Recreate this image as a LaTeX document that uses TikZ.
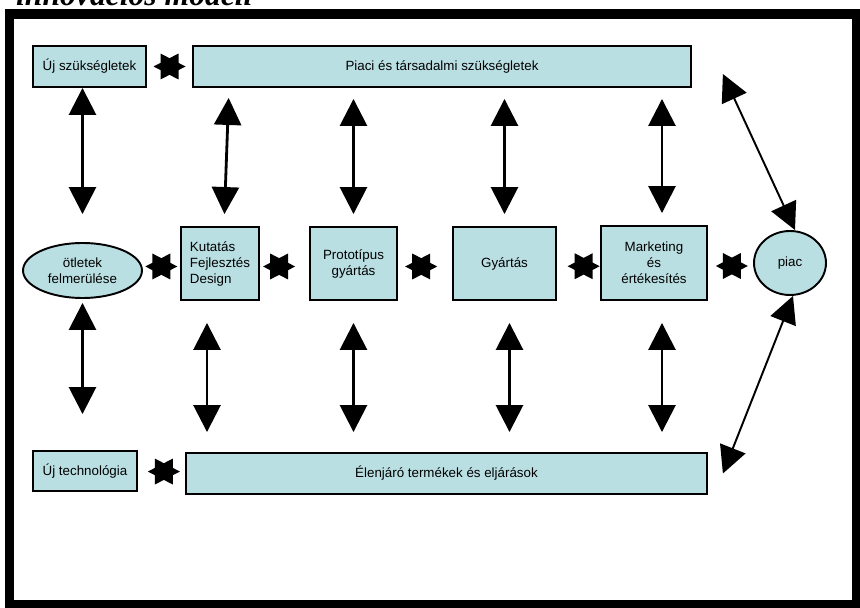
\documentclass[tikz,border=0pt]{standalone}
\usepackage{fontspec}
\setmainfont{Liberation Sans}
\newfontfamily\titlefont{Liberation Serif}
\usetikzlibrary{arrows.meta, shapes.geometric}

\newcommand{\dblmark}{\tikz \fill (-0.32cm,0cm) -- (0.18cm,-0.26cm) -- (0.18cm,0.26cm) -- cycle
    (0.32cm,0cm) -- (-0.18cm,0.26cm) -- (-0.18cm,-0.26cm) -- cycle;}

\begin{document}
\begin{tikzpicture}[
        x=0.02cm, y=-0.02cm,
        box/.style={draw=black, line width=1.1pt, fill=boxfill, inner sep=1pt, font=\fontsize{7.6}{9.1}\selectfont},
        oval/.style={box, ellipse, inner sep=0pt},
        link/.style={line width=1.6pt, {Triangle[length=0.54cm, width=0.54cm]}-{Triangle[length=0.54cm, width=0.54cm]}},
        thin link/.style={link, line width=1.1pt},
        marker/.style={inner sep=0pt}
    ]

        \definecolor{boxfill}{RGB}{186, 223, 227}

        \useasboundingbox (0,0) rectangle (860,608);

        \node[anchor=base west, font=\titlefont\fontsize{18}{20}\selectfont\bfseries\itshape] (title) at (10,6) {innovációs modell};
        \draw[line width=0.2cm] (9.5,14) rectangle (857,605);

        \node[box, minimum width=2.26cm, minimum height=0.82cm] (newneeds) at (89.5,66.5) {Új szükségletek};
        \node[box, minimum width=9.96cm, minimum height=0.82cm] (needs) at (442,66.5) {Piaci és társadalmi szükségletek};

        \node[oval, minimum width=2.38cm, minimum height=1.1cm, align=center] (idea) at (82.5,270.5) {ötletek\\felmerülése};
        \node[box, minimum width=1.56cm, minimum height=1.46cm, align=left] (rnd) at (220,263.5) {Kutatás\\Fejlesztés\\Design};
        \node[box, minimum width=1.74cm, minimum height=1.46cm, align=center] (proto) at (353.5,263.5) {Prototípus\\gyártás};
        \node[box, minimum width=2.06cm, minimum height=1.46cm] (prod) at (504.5,263.5) {Gyártás};
        \node[box, minimum width=2.12cm, minimum height=1.48cm, align=center] (mkt) at (654,263) {Marketing\\és\\értékesítés};
        \node[oval, minimum width=1.44cm, minimum height=1.28cm] (market) at (790,263) {piac};

        \node[box, minimum width=2.08cm, minimum height=0.8cm] (newtech) at (85,471) {Új technológia};
        \node[box, minimum width=10.42cm, minimum height=0.82cm] (leading) at (446.5,473.5) {Élenjáró termékek és eljárások};

        \path (newneeds) -- node[marker] {\dblmark} (needs);
        \path (idea) -- node[marker] {\dblmark} (rnd);
        \path (rnd) -- node[marker, pos=0.39, yshift=-0.06cm] {\dblmark} (proto);
        \path (proto) -- node[marker, pos=0.43, yshift=-0.06cm] {\dblmark} (prod);
        \path (prod) -- node[marker, pos=0.62, yshift=-0.06cm] {\dblmark} (mkt);
        \path (mkt) -- node[marker, pos=0.53, yshift=-0.06cm] {\dblmark} (market);
        \path (newtech) -- node[marker, pos=0.55] {\dblmark} (leading);

        \draw[link, shorten >=0.56cm] (newneeds.south -| idea) -- (idea.north);
        \draw[link, shorten <=0.2cm, shorten >=0.24cm] ([xshift=0.18cm]rnd.north |- needs.south) -- ([xshift=0.08cm]rnd.north);
        \draw[link, shorten <=0.22cm, shorten >=0.24cm] (proto.north |- needs.south) -- (proto.north);
        \draw[link, shorten <=0.22cm, shorten >=0.24cm] (prod.north |- needs.south) -- (prod.north);
        \draw[link, shorten <=0.22cm, shorten >=0.24cm] ([xshift=0.16cm]mkt.north |- needs.south) -- ([xshift=0.16cm]mkt.north);

        \draw[link, shorten <=0.08cm, shorten >=0.72cm] (idea.south) -- (idea.south |- newtech.north);
        \draw[link, shorten <=0.44cm, shorten >=0.4cm] ([xshift=-0.26cm]rnd.south) -- ([xshift=-0.26cm]rnd.south |- leading.north);
        \draw[link, shorten <=0.44cm, shorten >=0.4cm] (proto.south) -- (proto.south |- leading.north);
        \draw[link, shorten <=0.44cm, shorten >=0.4cm] ([xshift=0.1cm]prod.south) -- ([xshift=0.1cm]prod.south |- leading.north);
        \draw[link, shorten <=0.44cm, shorten >=0.4cm] ([xshift=0.16cm]mkt.south) -- ([xshift=0.16cm]mkt.south |- leading.north);

        \draw[thin link] ([shift={(0.62cm,-0.15cm)}]needs.east) -- ([xshift=0.1cm]market.north);
        \draw[thin link] ([xshift=0.06cm]market.south) -- ([xshift=0.3cm]leading.east);
    \end{tikzpicture}
\end{document}
